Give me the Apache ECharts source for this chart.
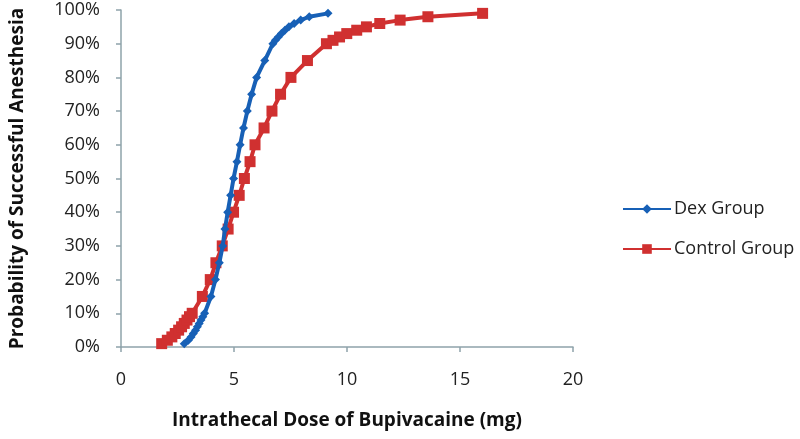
<!DOCTYPE html>
<html>
<head>
<meta charset="utf-8">
<script src="https://cdn.jsdelivr.net/npm/echarts@6/dist/echarts.min.js"></script>
<style>html,body{margin:0;padding:0;background:#fff}#c{width:800px;height:439px}</style>
</head>
<body>
<div id="c"></div>
<script>
const probabilities = [1,2,3,4,5,6,7,8,9,10,15,20,25,30,35,40,45,50,55,60,65,70,75,80,85,90,91,92,93,94,95,96,97,98,99];
const dexDose = [2.8,2.98,3.1,3.2,3.3,3.38,3.46,3.54,3.62,3.7,3.98,4.18,4.35,4.5,4.6,4.72,4.85,4.98,5.13,5.27,5.42,5.59,5.78,6.0,6.36,6.72,6.83,6.96,7.1,7.25,7.43,7.66,7.95,8.33,9.16];
const controlDose = [1.8,2.05,2.25,2.4,2.55,2.68,2.8,2.92,3.03,3.15,3.6,3.95,4.2,4.48,4.74,4.98,5.23,5.46,5.71,5.93,6.33,6.68,7.06,7.52,8.25,9.09,9.38,9.67,9.99,10.43,10.86,11.45,12.35,13.58,16.0];
const seriesNames = ['Dex Group','Control Group'];
const xTitle = 'Intrathecal Dose of Bupivacaine (mg)';
const yTitle = 'Probability of Successful Anesthesia';

const pair = (xs) => xs.map((x,i)=>[x, probabilities[i]]);
const font = '"Open Sans", Lato, sans-serif';
const axisColor = '#8ea3aa';

const chart = echarts.init(document.getElementById('c'), null, {renderer:'canvas'});
chart.setOption({
  animation:false,
  backgroundColor:'#fff',
  grid:{left:114, right:227, top:10, bottom:92, containLabel:false},
  xAxis:{
    type:'value', min:0, max:20, interval:5,
    name:xTitle, nameLocation:'middle', nameGap:64,
    nameTextStyle:{fontFamily:font, fontWeight:'bold', fontSize:19, color:'#111'},
    axisLine:{lineStyle:{color:axisColor, width:1.5}},
    axisTick:{show:true, inside:false, length:5, lineStyle:{color:axisColor, width:1.5}},
    axisLabel:{fontFamily:font, fontSize:18, color:'#222', margin:24},
    splitLine:{show:false}
  },
  yAxis:{
    type:'value', min:0, max:100, interval:10,
    name:yTitle, nameLocation:'middle', nameGap:94, nameRotate:90,
    nameTextStyle:{fontFamily:font, fontWeight:'bold', fontSize:19, color:'#111'},
    axisLine:{show:true, lineStyle:{color:axisColor, width:1.5}},
    axisTick:{show:true, inside:false, length:5, lineStyle:{color:axisColor, width:1.5}},
    axisLabel:{fontFamily:font, fontSize:18, color:'#222', margin:21, formatter:'{value}%'},
    splitLine:{show:false}
  },
  legend:{
    orient:'vertical', left:617, top:195, itemWidth:48, itemHeight:12, itemGap:22,
    textStyle:{fontFamily:font, fontSize:18, color:'#222', padding:[0,0,0,-2]},
    data:seriesNames
  },
  series:[
    {name:seriesNames[0], type:'line', data:pair(dexDose), symbol:'diamond', symbolSize:9,
     lineStyle:{color:'#1760b6', width:4}, itemStyle:{color:'#1760b6'}, z:3},
    {name:seriesNames[1], type:'line', data:pair(controlDose), symbol:'rect', symbolSize:11,
     lineStyle:{color:'#d03030', width:4}, itemStyle:{color:'#d03030'}, z:2}
  ]
});
</script>
</body>
</html>
